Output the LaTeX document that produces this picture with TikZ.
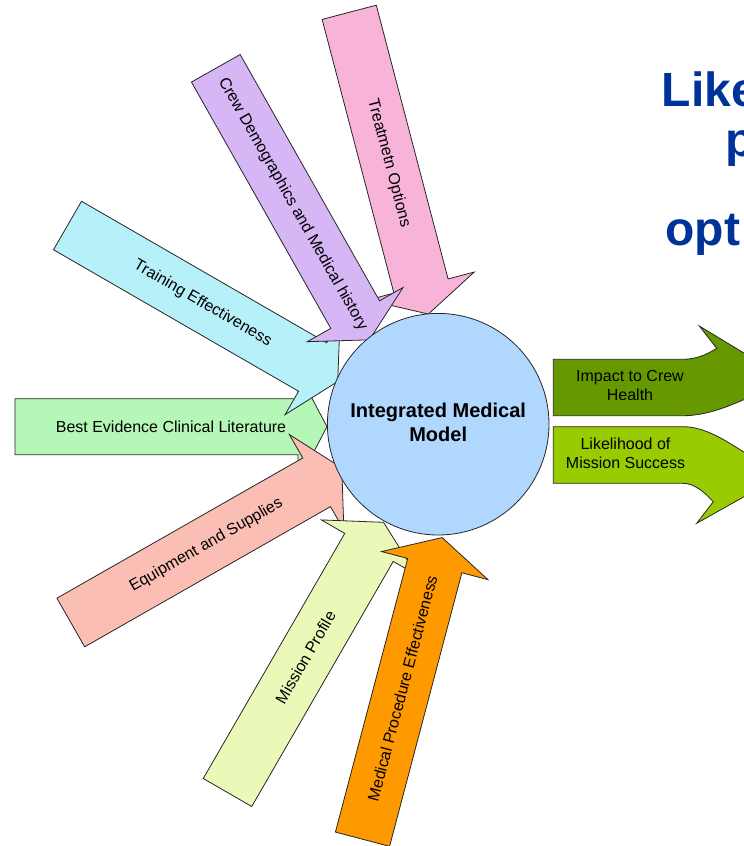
\documentclass[tikz,border=0pt]{standalone}
\usepackage{fontspec}
\setmainfont{Liberation Sans}
\definecolor{cpink}{RGB}{248,180,216}
\definecolor{cpurple}{RGB}{214,182,245}
\definecolor{ccyan}{RGB}{182,240,248}
\definecolor{cgreen}{RGB}{180,247,182}
\definecolor{csalmon}{RGB}{251,190,180}
\definecolor{cyellow}{RGB}{234,248,184}
\definecolor{corange}{RGB}{255,153,0}
\definecolor{ccirc}{RGB}{176,216,255}
\definecolor{cdkgreen}{RGB}{102,153,0}
\definecolor{cltgreen}{RGB}{153,204,0}
\definecolor{ctitle}{RGB}{0,51,153}
\tikzset{
  arrowline/.style={draw=black!85, line width=0.8pt, line join=miter},
  lbl/.style={font=\fontsize{16}{19}\selectfont, inner sep=0pt, align=center, text=black},
  titletext/.style={font=\bfseries\fontsize{48}{56}\selectfont, text=ctitle, inner sep=0pt, anchor=base west},
}
% name, tail x, tail y, angle, colour, label
\newcommand{\blockarr}[6]{%
  \begin{scope}[shift={(#2,#3)}, rotate=#4]
    \draw[arrowline, fill=#5] (0,-28) -- (283,-28) -- (283,-55) -- (312,0) -- (283,55) -- (283,28) -- (0,28) -- cycle;
    \node[lbl, transform shape] (#1) at (156,0) {#6};
  \end{scope}}
\begin{document}
\begin{tikzpicture}[x=1pt,y=-1pt]
\useasboundingbox (0,0) rectangle (744,846);
\clip (0,0) rectangle (744,846);

% input arrows (drawing order gives the overlaps)
\blockarr{best}{15}{426.7}{0}{cgreen}{Best Evidence Clinical Literature}
\blockarr{train}{67.5}{225.5}{-30}{ccyan}{Training Effectiveness}
\blockarr{treat}{349.2}{12.3}{-75.3}{cpink}{Treatmetn Options}
\blockarr{crew}{215.8}{68.3}{-60.5}{cpurple}{Crew Demographics and Medical history}
\blockarr{equip}{70.8}{622.5}{29.7}{csalmon}{Equipment and Supplies}
\blockarr{mission}{227.5}{792.5}{60}{cyellow}{Mission Profile}
\blockarr{proc}{362.5}{839.2}{75.2}{corange}{Medical Procedure Effectiveness}

% central model
\node[circle, draw=black!85, line width=0.8pt, fill=ccirc, minimum size=221.6pt, inner sep=0pt] (imm) at (438.2,424.2) {};
\node[inner sep=0pt, align=center, font=\bfseries\fontsize{20}{24}\selectfont] (immtext) at (438.2,422.4) {Integrated Medical\\Model};

% output arrows
\draw[arrowline, fill=cdkgreen] (553.3,359.3) -- (683,359.3) .. controls (696,359.3) and (707,354.5) .. (716.7,348.3) -- (699.3,326) -- (765,365.8) -- (765,390) -- (750,397) .. controls (725,408) and (705,415.7) .. (683,415.7) -- (553.3,415.7) -- cycle;
\node[lbl] (impact) at (630,385.5) {Impact to Crew\\Health};

\draw[arrowline, fill=cltgreen] (553.3,426.7) -- (683,426.7) .. controls (705,426.7) and (725,440) .. (750,456) -- (765,462) -- (765,484.9) -- (696.7,523.3) -- (713.3,501.7) .. controls (705,493) and (695,483.3) .. (683,483.3) -- (553.3,483.3) -- cycle;
\node[lbl] (success) at (625.5,453.3) {Likelihood of\\Mission Success};

% title (cut by the right edge)
\node[titletext] (t1) at (661.5,106.7) {Like};
\node[titletext] (t2) at (725,156.6) {p};
\node[titletext] (t3) at (665.3,245) {opt};
\end{tikzpicture}
\end{document}
